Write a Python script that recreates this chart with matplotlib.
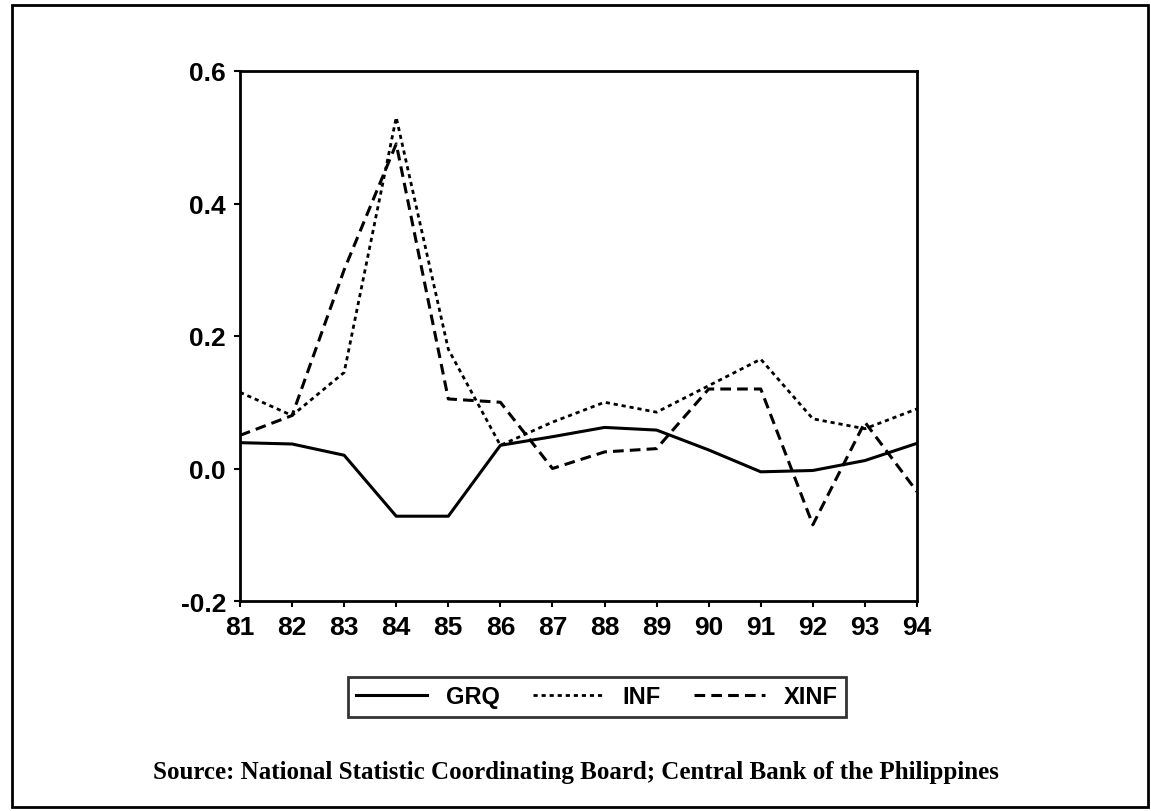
import matplotlib.pyplot as plt
from matplotlib.patches import Rectangle

years = [81, 82, 83, 84, 85, 86, 87, 88, 89, 90, 91, 92, 93, 94]
grq = [0.039, 0.037, 0.020, -0.072, -0.072, 0.035, 0.048, 0.062, 0.058, 0.028, -0.005, -0.003, 0.012, 0.038]
inf = [0.115, 0.080, 0.145, 0.530, 0.180, 0.035, 0.070, 0.100, 0.085, 0.125, 0.165, 0.075, 0.060, 0.090]
xinf = [0.050, 0.080, 0.300, 0.490, 0.105, 0.100, 0.000, 0.025, 0.030, 0.120, 0.120, -0.085, 0.070, -0.035]
yticks = [-0.2, 0.0, 0.2, 0.4, 0.6]

plt.rcParams['font.family'] = ['Liberation Sans', 'DejaVu Sans']

fig = plt.figure(figsize=(11.51, 8.12), dpi=100)
ax = fig.add_axes([240 / 1151, 1 - 602 / 812, (917 - 240) / 1151, (602 - 72) / 812])

ax.plot(years, grq, color='black', lw=2.2, ls='-', label='GRQ')
ax.plot(years, inf, color='black', lw=2.0, ls=(0, (1.5, 1.4)), label='INF')
ax.plot(years, xinf, color='black', lw=2.2, ls=(0, (3.5, 2)), label='XINF')

ax.set_xlim(81, 94)
ax.set_ylim(-0.2, 0.6)
ax.set_xticks(years)
ax.set_xticklabels([str(y) for y in years])
ax.set_yticks(yticks)
ax.set_yticklabels(['%.1f' % v for v in yticks])
ax.tick_params(axis='both', labelsize=19, length=4, width=1.5, direction='out', pad=6)
for lab in ax.get_xticklabels() + ax.get_yticklabels():
    lab.set_fontweight('bold')
for s in ax.spines.values():
    s.set_linewidth(2)

leg = fig.legend(loc='center', bbox_to_anchor=(597 / 1151, 1 - 698 / 812), ncol=3,
                 frameon=True, fancybox=False, edgecolor='black', handlelength=3.0,
                 columnspacing=1.4, handletextpad=0.8, borderpad=0.35,
                 prop={'size': 17, 'weight': 'bold'})
leg.get_frame().set_linewidth(2)

fig.text(576 / 1151, 1 - 773 / 812,
         'Source: National Statistic Coordinating Board; Central Bank of the Philippines',
         ha='center', va='center', fontsize=18, fontweight='bold', family='Liberation Serif')

fig.patches.append(Rectangle((12 / 1151, 4 / 812), 1136 / 1151, 802 / 812,
                             transform=fig.transFigure, fill=False, ec='black', lw=2))

fig.savefig('out.png', dpi=100)
